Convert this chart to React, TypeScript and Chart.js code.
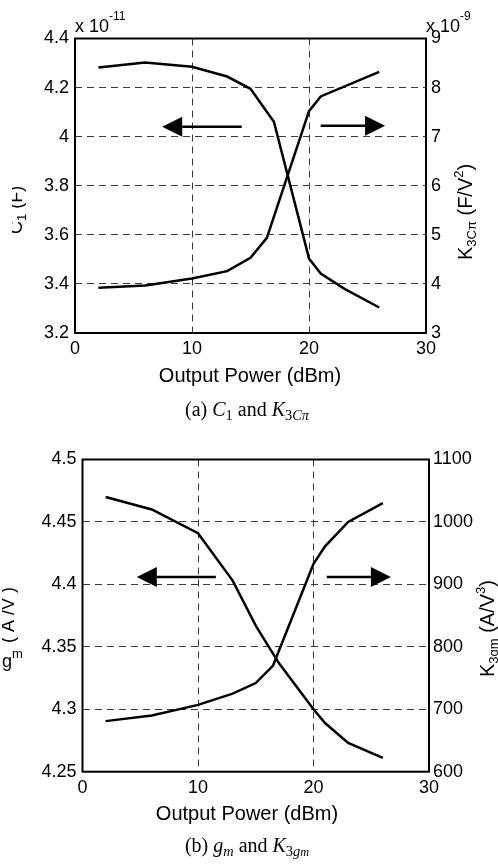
import React, { useEffect, useRef } from "react";
import { Chart, registerables } from "chart.js";

Chart.register(...registerables);

// ---------- data (a) ----------
const powerC1 = [2, 6, 10, 13, 15, 17, 20, 21, 23, 26];
const c1Values = [4.282, 4.302, 4.285, 4.245, 4.195, 4.061, 3.504, 3.442, 3.381, 3.304]; // x 1e-11 F
const powerK3C = [2, 6, 10, 13, 15, 16.4, 20, 21, 26];
const k3cValues = [3.92, 3.97, 4.11, 4.26, 4.53, 4.94, 7.52, 7.82, 8.32]; // x 1e-9 F/V^2
const xTicks = [0, 10, 20, 30];
const c1Ticks = [3.2, 3.4, 3.6, 3.8, 4.0, 4.2, 4.4];
const k3cTicks = [3, 4, 5, 6, 7, 8, 9];

// ---------- data (b) ----------
const powerGm = [2, 6, 10, 13, 15, 17, 20, 21, 23, 26];
const gmValues = [4.47, 4.46, 4.441, 4.403, 4.367, 4.337, 4.3, 4.289, 4.273, 4.261];
const powerK3g = [2, 6, 10, 13, 15, 16.5, 20, 21, 23, 26];
const k3gValues = [681, 690, 707, 725, 742, 770, 933, 961, 1000, 1030];
const gmTicks = [4.25, 4.3, 4.35, 4.4, 4.45, 4.5];
const k3gTicks = [600, 700, 800, 900, 1000, 1100];

// arrows: [fromX, toX, y, axis]
const arrowsA: [number, number, number, string][] = [
  [14.25, 7.45, 4.04, "y"],
  [21.0, 26.5, 7.22, "y2"],
];
const arrowsB: [number, number, number, string][] = [
  [11.55, 4.7, 4.406, "y"],
  [21.15, 26.7, 912, "y2"],
];

const SANS = "'Liberation Sans', Arial, Helvetica, sans-serif";
const TICK = 18;
const TITLE = 20;

type Seg = { t: string; size: number; dy?: number };

function drawRich(ctx: CanvasRenderingContext2D, segs: Seg[], x: number, y: number, rot: number) {
  ctx.save();
  ctx.translate(x, y);
  ctx.rotate(rot);
  ctx.textAlign = "left";
  ctx.textBaseline = "alphabetic";
  ctx.fillStyle = "#000";
  let cx = 0;
  for (const s of segs) {
    ctx.font = `${s.size}px ${SANS}`;
    ctx.fillText(s.t, cx, s.dy || 0);
    cx += ctx.measureText(s.t).width;
  }
  ctx.restore();
}

function drawArrow(ctx: CanvasRenderingContext2D, x1: number, x2: number, y: number) {
  const dir = Math.sign(x2 - x1);
  const head = 20;
  const half = 10;
  ctx.save();
  ctx.strokeStyle = "#000";
  ctx.fillStyle = "#000";
  ctx.lineWidth = 2.5;
  ctx.beginPath();
  ctx.moveTo(x1, y);
  ctx.lineTo(x2 - dir * head, y);
  ctx.stroke();
  ctx.beginPath();
  ctx.moveTo(x2, y);
  ctx.lineTo(x2 - dir * head, y - half);
  ctx.lineTo(x2 - dir * head, y + half);
  ctx.closePath();
  ctx.fill();
  ctx.restore();
}

type Cfg = {
  W: number;
  H: number;
  area: { left: number; right: number; top: number; bottom: number };
  xData: number[];
  yData: number[];
  x2Data: number[];
  y2Data: number[];
  yTicks: number[];
  y2Ticks: number[];
  arrows: [number, number, number, string][];
  yPad: number;
  y2Pad: number;
  xPad: number;
  texts: (ctx: CanvasRenderingContext2D, chart: any) => void;
};

function fmt(v: number) {
  return String(+Number(v).toFixed(2));
}

function buildChart(canvas: HTMLCanvasElement, c: Cfg) {
  const gridColor = (ticks: number[]) => (ctx: any) =>
    ctx.index === 0 || ctx.index === ticks.length - 1 ? "rgba(0,0,0,0)" : "#3a3a3a";
  const plugin = {
    id: "decor",
    beforeDatasetsDraw(chart: any) {
      const { ctx, chartArea: a } = chart;
      ctx.save();
      ctx.strokeStyle = "#000";
      ctx.lineWidth = 2;
      ctx.strokeRect(a.left, a.top, a.right - a.left, a.bottom - a.top);
      ctx.restore();
    },
    afterDraw(chart: any) {
      const ctx = chart.ctx;
      const xs = chart.scales.x;
      for (const [fx, tx, yv, ax] of c.arrows) {
        const ys = chart.scales[ax];
        drawArrow(ctx, xs.getPixelForValue(fx), xs.getPixelForValue(tx), ys.getPixelForValue(yv));
      }
      c.texts(ctx, chart);
    },
  };
  const tickFont = { family: SANS, size: TICK };
  return new Chart(canvas, {
    type: "line",
    data: {
      datasets: [
        {
          data: c.xData.map((x, i) => ({ x, y: c.yData[i] })),
          yAxisID: "y",
          borderColor: "#000",
          borderWidth: 2.5,
          pointRadius: 0,
          tension: 0,
          fill: false,
        },
        {
          data: c.x2Data.map((x, i) => ({ x, y: c.y2Data[i] })),
          yAxisID: "y2",
          borderColor: "#000",
          borderWidth: 2.5,
          pointRadius: 0,
          tension: 0,
          fill: false,
        },
      ],
    },
    options: {
      animation: false,
      responsive: false,
      devicePixelRatio: 1,
      layout: { padding: { top: c.area.top, left: 0, right: 0, bottom: 0 } },
      plugins: { legend: { display: false }, tooltip: { enabled: false }, title: { display: false } },
      scales: {
        x: {
          type: "linear",
          min: xTicks[0],
          max: xTicks[xTicks.length - 1],
          afterBuildTicks: (s: any) => {
            s.ticks = xTicks.map((v) => ({ value: v }));
          },
          afterFit: (s: any) => {
            s.height = c.H - c.area.bottom;
          },
          grid: { color: gridColor(xTicks), lineWidth: 1, drawTicks: false },
          border: { display: false, dash: [7, 5] },
          ticks: { font: tickFont, color: "#000", padding: c.xPad, maxRotation: 0, callback: (v: any) => fmt(v) },
        },
        y: {
          type: "linear",
          position: "left",
          min: c.yTicks[0],
          max: c.yTicks[c.yTicks.length - 1],
          afterBuildTicks: (s: any) => {
            s.ticks = c.yTicks.map((v) => ({ value: v }));
          },
          afterFit: (s: any) => {
            s.width = c.area.left;
          },
          grid: { color: gridColor(c.yTicks), lineWidth: 1, drawTicks: false },
          border: { display: false, dash: [7, 5] },
          ticks: { font: tickFont, color: "#000", padding: c.yPad, callback: (v: any) => fmt(v) },
        },
        y2: {
          type: "linear",
          position: "right",
          min: c.y2Ticks[0],
          max: c.y2Ticks[c.y2Ticks.length - 1],
          afterBuildTicks: (s: any) => {
            s.ticks = c.y2Ticks.map((v) => ({ value: v }));
          },
          afterFit: (s: any) => {
            s.width = c.W - c.area.right;
          },
          grid: { display: false, drawTicks: false },
          border: { display: false },
          ticks: { font: tickFont, color: "#000", padding: c.y2Pad, callback: (v: any) => fmt(v) },
        },
      },
    },
    plugins: [plugin],
  } as any);
}

function textsA(ctx: CanvasRenderingContext2D, chart: any) {
  const a = chart.chartArea;
  // exponent labels
  drawRich(ctx, [{ t: "x 10", size: TICK }, { t: "-11", size: 12, dy: -12 }], a.left, 32, 0);
  drawRich(ctx, [{ t: "x 10", size: TICK }, { t: "-9", size: 12, dy: -12 }], a.right, 32, 0);
  // x title
  ctx.save();
  ctx.font = `${TITLE}px ${SANS}`;
  ctx.fillStyle = "#000";
  ctx.textAlign = "center";
  ctx.textBaseline = "alphabetic";
  ctx.fillText("Output Power (dBm)", 250, 382);
  ctx.restore();
  // right title
  drawRich(
    ctx,
    [
      { t: "K", size: TITLE },
      { t: "3Cπ", size: 13, dy: 4 },
      { t: " (F/V", size: TITLE },
      { t: "2", size: 13, dy: -9 },
      { t: ")", size: TITLE },
    ],
    472,
    260,
    -Math.PI / 2
  );
  // left (clipped) title
  ctx.save();
  ctx.beginPath();
  ctx.rect(12, 0, 40, 400);
  ctx.clip();
  drawRich(
    ctx,
    [
      { t: "C", size: TICK },
      { t: "1", size: 13, dy: 4 },
      { t: " (F)", size: TICK },
    ],
    22,
    234,
    -Math.PI / 2
  );
  ctx.restore();
}

function textsB(ctx: CanvasRenderingContext2D, chart: any) {
  ctx.save();
  ctx.font = `${TITLE}px ${SANS}`;
  ctx.fillStyle = "#000";
  ctx.textAlign = "center";
  ctx.textBaseline = "alphabetic";
  ctx.fillText("Output Power (dBm)", 247, 820 - 420);
  ctx.restore();
  drawRich(
    ctx,
    [
      { t: "K", size: TITLE },
      { t: "3gm", size: 13, dy: 4 },
      { t: " (A/V", size: TITLE },
      { t: "3", size: 13, dy: -9 },
      { t: ")", size: TITLE },
    ],
    494,
    677 - 420,
    -Math.PI / 2
  );
  // left garbled title
  ctx.save();
  ctx.beginPath();
  ctx.rect(2, 140, 30, 90);
  ctx.clip();
  drawRich(
    ctx,
    [
      { t: "(", size: TICK },
      { t: " A", size: TICK },
      { t: " /", size: TICK },
      { t: "V", size: TICK },
      { t: " )", size: TICK },
    ],
    14,
    643 - 420,
    -Math.PI / 2
  );
  ctx.restore();
  drawRich(ctx, [{ t: "g", size: TICK }, { t: "m", size: 13, dy: -9 }], 2, 667 - 420, 0);
}

export default function App() {
  const refA = useRef<HTMLCanvasElement>(null);
  const refB = useRef<HTMLCanvasElement>(null);
  useEffect(() => {
    const chA = buildChart(refA.current!, {
      W: 498,
      H: 400,
      area: { left: 75, right: 426, top: 38.5, bottom: 333 },
      xData: powerC1,
      yData: c1Values,
      x2Data: powerK3C,
      y2Data: k3cValues,
      yTicks: c1Ticks,
      y2Ticks: k3cTicks,
      arrows: arrowsA,
      yPad: 6,
      y2Pad: 5,
      xPad: 5,
      texts: textsA,
    });
    const chB = buildChart(refB.current!, {
      W: 498,
      H: 445,
      area: { left: 82.5, right: 429, top: 39.5, bottom: 351.7 },
      xData: powerGm,
      yData: gmValues,
      x2Data: powerK3g,
      y2Data: k3gValues,
      yTicks: gmTicks,
      y2Ticks: k3gTicks,
      arrows: arrowsB,
      yPad: 6,
      y2Pad: 4,
      xPad: 6,
      texts: textsB,
    });
    return () => {
      chA.destroy();
      chB.destroy();
    };
  }, []);
  const cap: React.CSSProperties = {
    position: "absolute",
    left: 0,
    width: 494,
    textAlign: "center",
    font: "20px 'Liberation Serif', 'Times New Roman', serif",
    lineHeight: "22px",
    color: "#000",
    whiteSpace: "nowrap",
  };
  const sub: React.CSSProperties = { fontSize: "0.72em", verticalAlign: "-0.25em", lineHeight: 0 };
  return (
    <div style={{ position: "absolute", left: 0, top: 0, width: 498, height: 865, background: "#fff", overflow: "hidden" }}>
      <canvas ref={refA} width={498} height={400} style={{ position: "absolute", left: 0, top: 0, width: 498, height: 400 }} />
      <div style={{ ...cap, top: 398 }}>
        (a) <i>C</i>
        <span style={sub}>1</span> and <i>K</i>
        <span style={sub}>
          3<i>Cπ</i>
        </span>
      </div>
      <canvas ref={refB} width={498} height={445} style={{ position: "absolute", left: 0, top: 420, width: 498, height: 445 }} />
      <div style={{ ...cap, top: 834 }}>
        (b) <i>g</i>
        <span style={sub}>
          <i>m</i>
        </span>{" "}
        and <i>K</i>
        <span style={sub}>
          3<i>g</i>
          <span style={{ fontSize: "0.85em" }}>
            <i>m</i>
          </span>
        </span>
      </div>
    </div>
  );
}
